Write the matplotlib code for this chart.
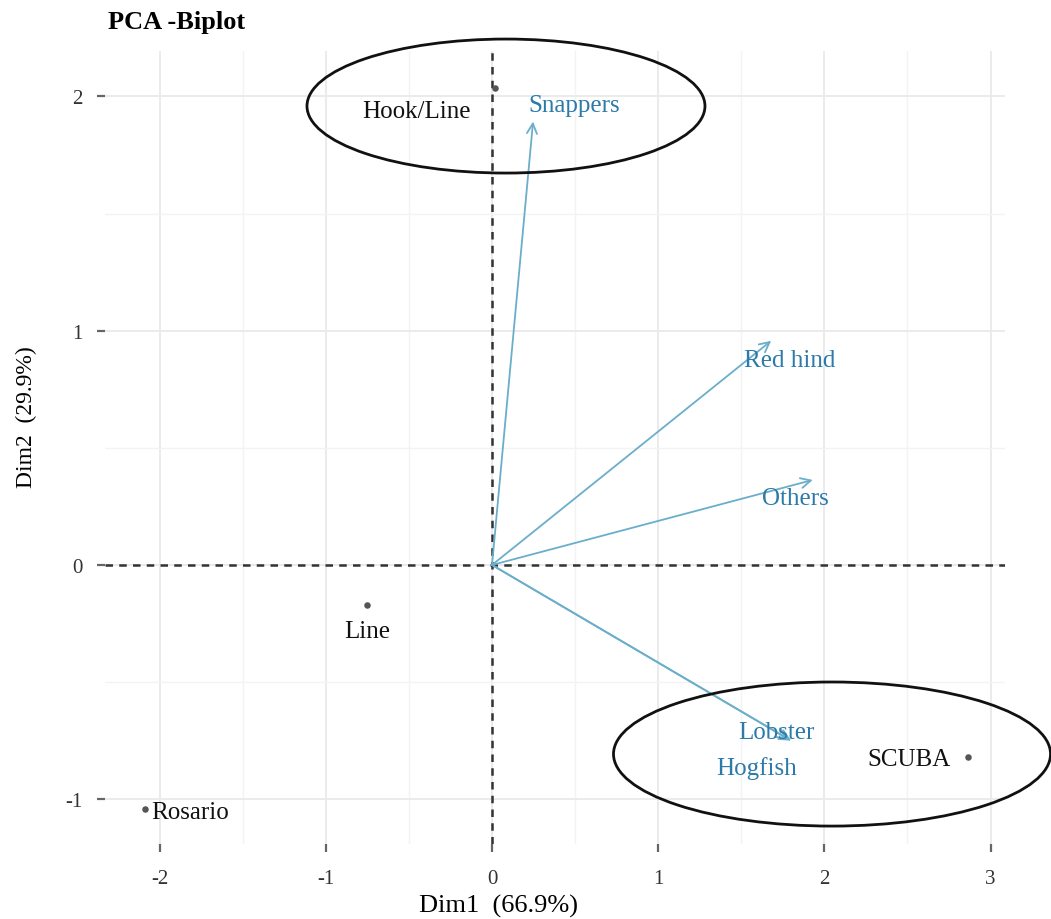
import matplotlib.pyplot as plt
from matplotlib.patches import Ellipse

plt.rcParams["axes.unicode_minus"] = False

# individuals (scores on Dim1 / Dim2)
ind_names = ["Hook/Line", "Line", "Rosario", "SCUBA"]
ind_x = [0.018, -0.752, -2.088, 2.864]
ind_y = [2.035, -0.171, -1.041, -0.819]

# variables (loadings, arrow tips)
var_names = ["Snappers", "Red hind", "Others", "Lobster", "Hogfish"]
var_x = [0.247, 1.68, 1.93, 1.80, 1.78]
var_y = [1.893, 0.957, 0.363, -0.75, -0.742]

# groups circled on the plot: centre x, centre y, width, height
grp_cx = [0.084, 2.046]
grp_cy = [1.959, -0.807]
grp_w = [2.395, 2.63]
grp_h = [0.572, 0.615]

x_ticks = [-2, -1, 0, 1, 2, 3]
y_ticks = [-1, 0, 1, 2]

serif = "Liberation Serif"
arrow_col = "#6aaecb"
label_col = "#2c7aa9"

fig = plt.figure(figsize=(10.51, 9.2), dpi=100)
ax = fig.add_axes([105 / 1051, 75 / 920, 900 / 1051, 793 / 920])
ax.set_xlim(-2.329, 3.087)
ax.set_ylim(-1.191, 2.194)

# ggplot-like minimal theme
for s in ax.spines.values():
    s.set_visible(False)
ax.set_xticks(x_ticks)
ax.set_yticks(y_ticks)
ax.set_xticks([-1.5, -0.5, 0.5, 1.5, 2.5], minor=True)
ax.set_yticks([-0.5, 0.5, 1.5], minor=True)
ax.grid(which="major", color="#ebebeb", lw=1.4)
ax.grid(which="minor", color="#f3f3f3", lw=1.0)
ax.set_axisbelow(True)
ax.tick_params(which="major", length=6, width=1.6, color="#666666",
               labelsize=15, labelcolor="#333333", pad=12)
ax.tick_params(which="minor", length=0)
ax.tick_params(axis="y", pad=10)
for lab in ax.get_xticklabels() + ax.get_yticklabels():
    lab.set_family(serif)

ax.axhline(0, color="#333333", ls=(0, (3, 2.5)), lw=1.8, zorder=2)
ax.axvline(0, color="#333333", ls=(0, (3, 2.5)), lw=1.8, zorder=2)

# variable arrows
var_off = [(41, 17), (18, -19), (-17, -18), (-15, 9), (-31, -29)]
for name, vx, vy, off in zip(var_names, var_x, var_y, var_off):
    ax.annotate("", xy=(vx, vy), xytext=(0, 0),
                arrowprops=dict(arrowstyle="->", color=arrow_col, lw=1.3,
                                mutation_scale=18, shrinkA=0, shrinkB=0),
                zorder=3)
    ax.annotate(name, xy=(vx, vy), xytext=off, textcoords="offset pixels",
                ha="center", va="center", color=label_col, fontsize=18,
                family=serif, zorder=4)

# individuals
ax.scatter(ind_x, ind_y, s=22, color="#555555", zorder=5, linewidths=0)
ind_off = [(-79, -23), (0, -26), (6, -3), (-17, -2)]
ind_ha = ["center", "center", "left", "right"]
for name, px, py, off, ha in zip(ind_names, ind_x, ind_y, ind_off, ind_ha):
    ax.annotate(name, xy=(px, py), xytext=off, textcoords="offset pixels",
                ha=ha, va="center", color="#111111", fontsize=18,
                family=serif, zorder=5)

# circled groups
for cx, cy, w, h in zip(grp_cx, grp_cy, grp_w, grp_h):
    ax.add_patch(Ellipse((cx, cy), w, h, fill=False, edgecolor="#111111",
                         lw=2, clip_on=False, zorder=6))

ax.set_xlabel("Dim1  (66.9%)", family=serif, fontsize=19)
ax.set_ylabel("Dim2  (29.9%)", family=serif, fontsize=17)
ax.xaxis.set_label_coords(0.437, -0.063)
ax.yaxis.set_label_coords(-0.075, 0.54)
fig.text(108 / 1051, 1 - 22 / 920, "PCA -Biplot", family=serif,
         fontweight="bold", fontsize=19, ha="left", va="center")

fig.savefig("out.png", dpi=100)
